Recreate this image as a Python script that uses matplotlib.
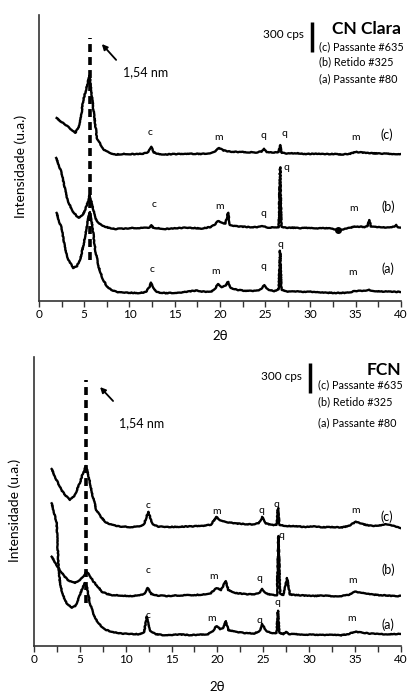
import matplotlib
matplotlib.use('Agg')
import matplotlib.pyplot as plt
from matplotlib.ticker import MultipleLocator

plt.rcParams['font.family'] = ['Lato', 'DejaVu Sans']

# %% data (2theta in degrees, intensity in cps, offset stacked)
top_a_x = [1.95, 2.2, 2.5, 2.9, 3.3, 3.8, 4.2, 4.6, 5.0, 5.3, 5.6, 5.9, 6.2, 6.6, 7.0, 7.5, 8.0, 8.5, 9.0, 10, 11, 11.8,
           12.2, 12.4, 12.6, 13.0, 14, 15, 16, 17, 17.5, 18, 19, 19.5, 19.8, 20.2, 20.6, 20.9, 21.2, 22, 23, 24, 24.6,
           24.9, 25.3, 26, 26.5, 26.65, 26.8, 27.5, 28, 29, 30, 31, 32, 33, 34, 34.5, 35, 36, 36.5, 37, 38, 39, 40]
top_a_y = [880, 800, 730, 510, 400, 330, 350, 430, 600, 760, 890, 750, 520, 340, 230, 143, 110, 93, 85, 82, 80, 88,
           140, 183, 130, 88, 78, 82, 88, 100, 105, 95, 90, 130, 170, 140, 150, 193, 130, 110, 100, 100, 120,
           160, 115, 100, 115, 503, 110, 95, 100, 90, 92, 85, 82, 80, 82, 90, 100, 100, 110, 100, 95, 92, 90]

top_b_x = [1.9, 2.5, 3.05, 3.6, 4.35, 4.9, 5.3, 5.6, 5.9, 6.2, 6.6, 7.0, 7.8, 8.5, 9.5, 10.5, 11.5, 12.2, 12.4, 12.6,
           13, 14, 15, 16, 17, 18, 19, 19.5, 19.8, 20.2, 20.6, 20.9, 21.1, 22, 23, 24, 24.8, 25.0, 25.3, 26, 26.5,
           26.65, 26.8, 27.5, 28, 29, 30, 31, 32, 33.0, 33.5, 34, 35, 36, 36.3, 36.5, 36.7, 37, 38, 39, 39.3, 39.5,
           39.7, 40]
top_b_y = [1430, 1280, 1040, 910, 830, 870, 960, 1060, 960, 830, 780, 750, 730, 720, 725, 730, 730, 735, 760, 735,
           728, 720, 726, 732, 730, 725, 740, 770, 800, 780, 770, 883, 760, 745, 740, 738, 748, 743, 735, 735, 740,
           1337, 740, 730, 733, 728, 732, 726, 728, 710, 712, 725, 745, 740, 745, 810, 745, 740, 735, 740, 745, 760,
           738, 730]

top_c_x = [1.95, 2.3, 2.7, 3.1, 3.5, 4.0, 4.5, 4.9, 5.3, 5.6, 5.9, 6.4, 6.7, 7.2, 7.8, 8.5, 9.5, 10.5, 11.5, 12.1,
           12.4, 12.7, 13.2, 14, 15, 16, 17, 18, 19, 19.5, 19.9, 20.4, 21, 22, 23, 24, 24.6, 24.9, 25.2, 26, 26.5,
           26.65, 26.8, 27.5, 28.5, 29.5, 30.5, 31.5, 32.5, 33.5, 34.3, 35, 35.7, 36.5, 37.5, 38.5, 39.3, 40]
top_c_y = [1830, 1800, 1780, 1750, 1720, 1680, 1760, 2010, 2150, 2260, 2000, 1630, 1580, 1510, 1480, 1465, 1470,
           1468, 1472, 1490, 1543, 1485, 1470, 1465, 1470, 1468, 1472, 1470, 1480, 1500, 1530, 1505, 1495, 1490,
           1488, 1485, 1495, 1520, 1490, 1485, 1490, 1560, 1480, 1475, 1478, 1470, 1472, 1468, 1470, 1465, 1470,
           1490, 1485, 1478, 1475, 1472, 1470, 1470]

bot_a_x = [1.93, 2.2, 2.47, 2.65, 2.8, 3.0, 3.3, 3.56, 4.1, 4.5, 4.8, 5.2, 5.5, 5.8, 6.1, 6.45, 6.8, 7.3, 7.9, 8.5,
           9.5, 10.5, 11.5, 12.0, 12.3, 12.6, 13.2, 14, 15, 16, 17, 18, 19, 19.5, 19.9, 20.3, 20.6, 20.9, 21.2, 22,
           23, 24, 24.6, 24.9, 25.3, 26, 26.45, 26.6, 26.75, 27.2, 27.5, 27.8, 28.5, 29.5, 30.5, 31.5, 32.5, 33.5,
           34.3, 35, 35.8, 36.5, 37.5, 38.5, 39.3, 40]
bot_a_y = [1427, 1330, 1230, 830, 660, 560, 480, 430, 380, 400, 460, 560, 630, 580, 430, 330, 260, 200, 160, 140,
           125, 120, 118, 140, 293, 160, 120, 110, 112, 115, 110, 112, 120, 150, 200, 170, 180, 250, 160, 140,
           130, 125, 150, 220, 150, 125, 130, 353, 130, 120, 140, 120, 118, 115, 112, 110, 112, 108,
           120, 143, 135, 125, 120, 118, 120, 120]

bot_b_x = [1.93, 2.4, 2.8, 3.3, 3.7, 4.1, 4.47, 4.9, 5.3, 5.74, 6.1, 6.5, 7.0, 7.4, 8.0, 8.5, 9.5, 10.5, 11.5, 12.0,
           12.4, 12.8, 13.5, 14.5, 15.5, 16.5, 17.5, 18.5, 19.3, 19.9, 20.4, 20.9, 21.2, 22, 23, 24, 24.6, 24.9,
           25.3, 26, 26.5, 26.65, 26.85, 27.2, 27.6, 27.9, 28.5, 29.5, 30.5, 31.5, 32.5, 33.5, 34.3, 35, 35.8,
           36.5, 37.5, 38.5, 39.3, 40]
bot_b_y = [893, 820, 760, 700, 660, 640, 630, 650, 690, 743, 700, 643, 590, 543, 520, 510, 505, 500, 505, 520,
           580, 520, 505, 500, 505, 508, 510, 515, 530, 580, 560, 650, 560, 530, 520, 515, 530, 570,
           525, 510, 510, 1100, 520, 510, 680, 515, 510, 505, 500, 505, 498, 500, 510, 543, 530,
           520, 510, 505, 500, 500]

bot_c_x = [1.93, 2.3, 3.0, 3.4, 3.9, 4.4, 5.0, 5.3, 5.67, 6.0, 6.4, 6.8, 7.3, 7.8, 8.5, 9.5, 10.5, 11.5, 12.0,
           12.46, 12.9, 13.5, 14.5, 15.5, 16.5, 17.5, 18.5, 19.3, 19.9, 20.3, 21, 22, 23, 24, 24.5, 24.9, 25.3,
           26, 26.45, 26.6, 26.75, 27.5, 28.5, 29.5, 30.5, 31.5, 32.5, 33.5, 34.3, 35.1, 35.8, 36.5, 37.5, 38.3,
           38.8, 39.5, 40]
bot_c_y = [1770, 1690, 1560, 1510, 1460, 1500, 1630, 1720, 1800, 1680, 1500, 1360, 1290, 1240, 1210, 1195, 1190,
           1195, 1220, 1343, 1220, 1195, 1190, 1192, 1195, 1198, 1200, 1215, 1290, 1260, 1240, 1225, 1220, 1215,
           1230, 1290, 1225, 1210, 1215, 1380, 1210, 1200, 1200, 1190, 1195, 1188, 1190, 1185, 1200, 1243, 1220,
           1205, 1200, 1220, 1215, 1190, 1180]

# peak labels: (2theta, cps, text)
top_marks = [(12.3, 1680, 'c'), (19.8, 1630, 'm'), (24.8, 1650, 'q'), (27.1, 1670, 'q'), (35.0, 1630, 'm'),
             (12.7, 960, 'c'), (20.0, 943, 'm'), (24.8, 870, 'q'), (27.4, 1330, 'q'), (34.8, 920, 'm'),
             (12.45, 310, 'c'), (19.55, 293, 'm'), (24.8, 343, 'q'), (26.7, 560, 'q'), (34.7, 283, 'm')]
top_names = [(38.5, 1660, '(c)'), (38.6, 940, '(b)'), (38.6, 320, '(a)')]

bot_marks = [(12.4, 1410, 'c'), (19.9, 1350, 'm'), (24.8, 1353, 'q'), (26.4, 1420, 'q'), (35.1, 1353, 'm'),
             (12.46, 760, 'c'), (19.6, 700, 'm'), (24.6, 680, 'q'), (27.0, 1105, 'q'), (34.7, 660, 'm'),
             (12.4, 310, 'c'), (19.4, 280, 'm'), (24.6, 260, 'q'), (26.6, 433, 'q'), (34.6, 280, 'm')]
bot_names = [(38.5, 1293, '(c)'), (38.6, 760, '(b)'), (38.6, 210, '(a)')]

legend_lines = ['(c) Passante #635', '(b) Retido #325', '(a) Passante #80']

# %% plot
fig = plt.figure(figsize=(4.09, 6.93), dpi=100)
axTop = fig.add_axes([0.0954, 0.5657, 0.8846, 0.4127])
axBot = fig.add_axes([0.0831, 0.0678, 0.8969, 0.4170])


def drawPanel(ax, curves, ymax, marks, names, title, dashX, dashY, arrow, scale):
  for xs, ys in curves:
    line, = ax.plot(xs, ys, color='black', lw=1.7)
    line.set_sketch_params(scale=0.35, length=1.0, randomness=1.5)
  ax.plot([dashX, dashX], dashY, color='black', lw=2.6, linestyle=(0, (2.2, 1.4)))
  for x, y, t in marks:
    ax.text(x, y, t, fontsize=7.5, ha='center', va='center')
  for x, y, t in names:
    ax.text(x, y, t, fontsize=9, ha='center', va='center')
  (hx, hy), (tx, ty), (lx, ly) = arrow
  ax.annotate('', xy=(hx, hy), xytext=(tx, ty),
              arrowprops=dict(arrowstyle='-|>', color='black', lw=1.3, mutation_scale=8))
  ax.text(lx, ly, '1,54 nm', fontsize=9, ha='left', va='center')
  bx, by0, by1, tyc, lgx, lgy = scale
  ax.plot([bx, bx], [by0, by1], color='black', lw=2.5, solid_capstyle='butt')
  ax.text(bx - 0.9, (by0 + by1) / 2 + 20, '300 cps', fontsize=8.5, ha='right', va='center')
  ax.text(40, tyc, title, fontsize=12.5, fontweight='bold', ha='right', va='center')
  for yy, t in zip(lgy, legend_lines):
    ax.text(lgx, yy, t, fontsize=7.8, ha='left', va='center')

  ax.set_xlim(0, 40)
  ax.set_ylim(0, ymax)
  ax.xaxis.set_major_locator(MultipleLocator(5))
  ax.xaxis.set_minor_locator(MultipleLocator(2.5))
  ax.tick_params(axis='x', which='both', direction='out', length=4, width=1, labelsize=8.5, pad=2, color='#333333')
  ax.set_yticks([])
  for s in ['top', 'right']:
    ax.spines[s].set_visible(False)
  for s in ['left', 'bottom']:
    ax.spines[s].set_linewidth(1.2)
    ax.spines[s].set_color('#333333')
  ax.set_xlabel('2θ', fontsize=9.5)
  ax.set_ylabel('Intensidade (u.a.)', fontsize=10)


drawPanel(axTop, [(top_a_x, top_a_y), (top_b_x, top_b_y), (top_c_x, top_c_y)], 2860, top_marks, top_names,
          'CN Clara', 5.6, [410, 2630],
          ((6.74, 2590), (8.73, 2390), (9.3, 2290)),
          (30.2, 2490, 2790, 2720, 31.0, [2540, 2390, 2220]))
axTop.plot([33.0], [710], 'o', color='black', ms=4)
axTop.yaxis.set_label_coords(-0.033, 0.47)
axTop.xaxis.set_label_coords(0.5, -0.102)

drawPanel(axBot, [(bot_a_x, bot_a_y), (bot_b_x, bot_b_y), (bot_c_x, bot_c_y)], 2890, bot_marks, bot_names,
          'FCN', 5.67, [430, 2660],
          ((7.0, 2610), (8.83, 2430), (9.3, 2230)),
          (30.1, 2530, 2830, 2760, 31.0, [2610, 2440, 2230]))
axBot.yaxis.set_label_coords(-0.035, 0.47)
axBot.xaxis.set_label_coords(0.5, -0.12)

fig.savefig('out.png', dpi=100, facecolor='white')
